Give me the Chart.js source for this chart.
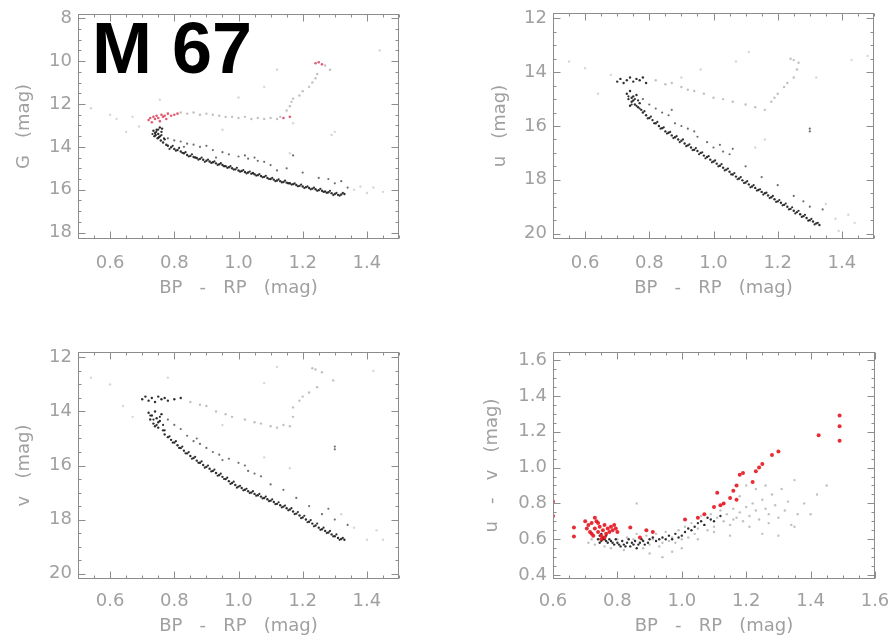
<!DOCTYPE html>
<html>
<head>
<meta charset="utf-8">
<script src="https://cdn.jsdelivr.net/npm/chart.js@4.4.0/dist/chart.umd.min.js"></script>
<style>
body { margin: 0; background: #fff; width: 892px; height: 637px; position: relative; overflow: hidden; }
canvas { position: absolute; }
#cluster { position: absolute; left: 92px; top: 12px; font: bold 72px "Liberation Sans", Arial, sans-serif; line-height: 72px; color: #000; }
</style>
</head>
<body>
<canvas id="panel-g" width="446" height="320" style="left:0;top:0"></canvas>
<canvas id="panel-u" width="446" height="320" style="left:446px;top:0"></canvas>
<canvas id="panel-v" width="446" height="317" style="left:0;top:320px"></canvas>
<canvas id="panel-uv" width="446" height="317" style="left:446px;top:320px"></canvas>
<div id="cluster">M 67</div>
<script>
// tick labels
const colorTicks = [0.6, 0.8, 1.0, 1.2, 1.4];
const uvColorTicks = [0.6, 0.8, 1.0, 1.2, 1.4, 1.6];
const gTicks = [8, 10, 12, 14, 16, 18];
const uTicks = [12, 14, 16, 18, 20];
const vTicks = [12, 14, 16, 18, 20];
const uvTicks = [0.4, 0.6, 0.8, 1.0, 1.2, 1.4, 1.6];

// G vs BP-RP
const gMain = [[0.735,13.25],[0.74,13.35],[0.745,13.2],[0.75,13.4],[0.755,13.1],[0.76,13.3],[0.738,13.5],[0.748,13.6],[0.742,13.45],[0.752,13.55],[0.758,13.7],[0.765,13.8],[0.77,13.65],[0.762,13.15],[0.775,13.9],[0.78,13.95],[0.79,14.02],[0.80,14.1],[0.81,14.15],[0.82,14.22],[0.83,14.3],[0.84,14.38],[0.85,14.42],[0.86,14.47],[0.87,14.52],[0.88,14.56],[0.89,14.6],[0.90,14.65],[0.91,14.68],[0.92,14.72],[0.93,14.77],[0.94,14.81],[0.95,14.85],[0.96,14.9],[0.97,14.95],[0.98,15.0],[0.99,15.05],[1.00,15.1],[1.01,15.13],[1.02,15.17],[1.03,15.2],[1.04,15.25],[1.05,15.28],[1.06,15.32],[1.07,15.36],[1.08,15.4],[1.09,15.45],[1.10,15.5],[1.11,15.53],[1.12,15.57],[1.13,15.6],[1.14,15.64],[1.15,15.67],[1.16,15.7],[1.17,15.74],[1.18,15.78],[1.19,15.82],[1.20,15.85],[1.21,15.88],[1.22,15.92],[1.23,15.95],[1.24,15.98],[1.25,16.02],[1.26,16.05],[1.27,16.08],[1.28,16.12],[1.29,16.16],[1.30,16.2],[1.31,16.24],[1.32,16.22],[1.33,16.2],[0.955,14.9],[1.045,15.22],[1.155,15.7],[1.265,16.1],[0.865,14.5]];
const gMainB = [[0.732,13.4],[0.744,13.3],[0.756,13.5],[0.768,13.6],[0.75,13.2],[0.76,13.45],[0.785,14.1],[0.795,13.95],[0.805,14.18],[0.815,14.05],[0.825,14.28],[0.835,14.25],[0.845,14.45],[0.855,14.35],[0.875,14.6],[0.885,14.5],[0.895,14.7],[0.905,14.6],[0.915,14.75],[0.925,14.68],[0.935,14.85],[0.945,14.76],[0.965,14.98],[0.975,14.9],[0.985,15.06],[0.995,14.98],[1.005,15.16],[1.015,15.08],[1.025,15.24],[1.035,15.15],[1.055,15.34],[1.065,15.27],[1.075,15.42],[1.085,15.35],[1.095,15.5],[1.105,15.45],[1.115,15.6],[1.125,15.52],[1.135,15.66],[1.145,15.58],[1.165,15.76],[1.175,15.7],[1.185,15.84],[1.195,15.76],[1.205,15.92],[1.215,15.84],[1.225,15.98],[1.235,15.9],[1.245,16.05],[1.255,15.96],[1.275,16.15],[1.285,16.05],[1.295,16.25],[1.305,16.15],[1.315,16.28],[1.325,16.15]];
const gBinary = [[0.78,13.6],[0.8,13.7],[0.82,13.75],[0.84,13.85],[0.86,13.9],[0.88,14.0],[0.9,13.95],[0.92,14.15],[0.95,14.25],[0.97,14.35],[1.0,14.45],[1.02,14.4],[1.03,14.55],[1.05,14.5],[1.06,14.65],[1.08,14.7],[1.1,14.85],[1.15,15.0],[1.17,14.4],[1.2,15.2],[1.25,15.45],[1.28,15.5],[1.3,15.7],[1.32,15.6],[1.34,15.9],[0.83,14.0],[0.93,14.5],[1.12,15.1]];
const gGiants = [[0.82,12.4],[0.84,12.45],[0.86,12.4],[0.88,12.5],[0.9,12.45],[0.92,12.5],[0.94,12.55],[0.96,12.6],[0.98,12.6],[1.0,12.65],[1.02,12.6],[1.04,12.7],[1.06,12.65],[1.08,12.7],[1.1,12.65],[1.12,12.7],[1.13,12.6],[1.15,12.3],[1.16,12.1],[1.165,11.9],[1.17,11.75],[1.19,11.6],[1.2,11.4],[1.22,11.2],[1.23,11.0],[1.24,10.8],[1.245,10.6],[1.27,10.2],[1.285,10.4]];
const gField = [[0.54,12.2],[0.6,12.5],[0.67,12.6],[0.755,11.8],[1.08,11.2],[1.12,10.4],[1.44,9.5],[1.29,13.45],[1.3,13.3],[1.16,14.3],[1.4,16.15],[1.45,16.1],[1.42,15.9],[0.65,13.3],[0.62,12.7],[0.95,13.2],[1.0,11.7],[1.36,16.0],[1.38,15.85],[0.69,13.05],[1.17,12.9]];
const gRed = [[0.72,12.75],[0.725,12.65],[0.73,12.85],[0.735,12.6],[0.74,12.7],[0.745,12.55],[0.75,12.65],[0.755,12.8],[0.76,12.5],[0.765,12.6],[0.77,12.55],[0.775,12.7],[0.78,12.45],[0.79,12.55],[0.80,12.5],[0.81,12.45],[1.24,10.1],[1.25,10.05],[1.26,10.15],[1.14,12.65],[1.16,12.6]];

// u vs BP-RP
const uMain = [[0.73,14.8],[0.735,15.0],[0.74,14.7],[0.745,15.1],[0.75,14.9],[0.755,15.2],[0.76,14.85],[0.74,15.25],[0.75,15.05],[0.765,15.3],[0.77,15.15],[0.745,14.95],[0.775,15.4],[0.78,15.5],[0.79,15.6],[0.80,15.7],[0.81,15.78],[0.82,15.9],[0.83,16.0],[0.84,16.08],[0.85,16.2],[0.86,16.25],[0.87,16.35],[0.88,16.42],[0.89,16.5],[0.9,16.55],[0.91,16.65],[0.92,16.72],[0.93,16.8],[0.94,16.88],[0.95,16.93],[0.96,17.0],[0.97,17.1],[0.98,17.15],[0.99,17.25],[1.0,17.32],[1.01,17.4],[1.02,17.48],[1.03,17.55],[1.04,17.62],[1.05,17.7],[1.06,17.8],[1.07,17.88],[1.08,17.95],[1.09,18.02],[1.1,18.1],[1.11,18.17],[1.12,18.25],[1.13,18.3],[1.14,18.38],[1.15,18.45],[1.16,18.5],[1.17,18.58],[1.18,18.65],[1.19,18.72],[1.2,18.8],[1.21,18.85],[1.22,18.93],[1.23,19.0],[1.24,19.08],[1.25,19.15],[1.26,19.2],[1.27,19.28],[1.28,19.35],[1.29,19.42],[1.3,19.5],[1.31,19.55],[1.32,19.62],[1.33,19.68],[0.70,14.35],[0.71,14.25],[0.72,14.4],[0.73,14.3],[0.74,14.2],[0.75,14.35],[0.76,14.25],[0.77,14.3],[0.78,14.2],[0.79,14.4]];
const uMainB = [[0.735,14.9],[0.745,15.2],[0.755,15.0],[0.76,15.25],[0.765,15.05],[0.77,15.35],[0.785,15.45],[0.795,15.72],[0.805,15.65],[0.815,15.9],[0.825,15.85],[0.835,16.1],[0.845,16.05],[0.855,16.28],[0.865,16.22],[0.875,16.45],[0.885,16.38],[0.895,16.6],[0.905,16.5],[0.915,16.75],[0.925,16.68],[0.935,16.9],[0.945,16.82],[0.955,17.05],[0.965,16.98],[0.975,17.2],[0.985,17.12],[0.995,17.35],[1.005,17.28],[1.015,17.5],[1.025,17.42],[1.035,17.65],[1.045,17.58],[1.055,17.8],[1.065,17.75],[1.075,17.98],[1.085,17.9],[1.095,18.12],[1.105,18.05],[1.115,18.28],[1.125,18.2],[1.135,18.4],[1.145,18.35],[1.155,18.55],[1.165,18.48],[1.175,18.68],[1.185,18.6],[1.195,18.82],[1.205,18.75],[1.215,18.95],[1.225,18.88],[1.235,19.1],[1.245,19.02],[1.255,19.25],[1.265,19.15],[1.275,19.38],[1.285,19.3],[1.295,19.52],[1.305,19.45],[1.315,19.66],[1.325,19.6]];
const uBinary = [[0.78,15.0],[0.8,15.2],[0.82,15.35],[0.84,15.5],[0.86,15.6],[0.88,15.9],[0.9,16.0],[0.92,16.1],[0.95,16.4],[0.98,16.6],[1.0,16.8],[1.02,16.7],[1.03,16.95],[1.05,17.05],[1.06,16.85],[1.1,17.5],[1.15,17.9],[1.2,18.2],[1.25,18.6],[1.28,18.8],[1.3,19.0],[1.34,19.1],[0.87,15.4],[0.94,16.2],[1.3,16.2],[1.3,16.1]];
const uGiants = [[0.82,14.3],[0.85,14.45],[0.87,14.4],[0.9,14.55],[0.92,14.65],[0.94,14.7],[0.97,14.8],[1.0,14.95],[1.03,15.0],[1.06,15.1],[1.1,15.2],[1.13,15.3],[1.16,15.4],[1.18,15.1],[1.19,14.95],[1.2,14.8],[1.22,14.55],[1.23,14.4],[1.25,14.2],[1.26,13.9],[1.24,13.5],[1.25,13.55],[1.265,13.65]];
const uField = [[0.55,13.6],[0.6,13.85],[0.64,14.8],[0.9,14.2],[1.07,13.6],[1.11,13.25],[1.48,13.4],[1.43,13.55],[1.39,19.9],[1.42,19.3],[1.13,16.8],[1.16,16.5],[1.44,19.6],[1.32,14.2],[0.68,14.1],[0.96,13.9],[1.35,18.9],[1.38,19.45]];

// v vs BP-RP
const vMain = [[0.72,14.05],[0.725,14.3],[0.73,14.15],[0.735,14.45],[0.74,14.0],[0.745,14.25],[0.75,14.6],[0.755,14.35],[0.76,14.1],[0.765,14.7],[0.74,14.55],[0.75,14.4],[0.77,14.85],[0.78,14.95],[0.79,15.05],[0.8,15.15],[0.81,15.25],[0.82,15.35],[0.83,15.45],[0.84,15.55],[0.85,15.65],[0.86,15.72],[0.87,15.82],[0.88,15.9],[0.89,15.98],[0.9,16.05],[0.91,16.12],[0.92,16.2],[0.93,16.28],[0.94,16.35],[0.95,16.42],[0.96,16.5],[0.97,16.58],[0.98,16.65],[0.99,16.72],[1.0,16.78],[1.01,16.83],[1.02,16.9],[1.03,16.95],[1.04,17.0],[1.05,17.05],[1.06,17.1],[1.07,17.15],[1.08,17.2],[1.09,17.25],[1.1,17.3],[1.11,17.35],[1.12,17.42],[1.13,17.47],[1.14,17.52],[1.15,17.58],[1.16,17.63],[1.17,17.7],[1.18,17.78],[1.19,17.85],[1.2,17.92],[1.21,18.0],[1.22,18.08],[1.23,18.15],[1.24,18.22],[1.25,18.3],[1.26,18.36],[1.27,18.42],[1.28,18.48],[1.29,18.55],[1.3,18.62],[1.31,18.68],[1.32,18.72],[1.33,18.75],[0.70,13.55],[0.71,13.45],[0.72,13.6],[0.73,13.5],[0.74,13.65],[0.75,13.45],[0.76,13.55],[0.77,13.5],[0.78,13.6],[0.8,13.55],[0.82,13.5]];
const vMainB = [[0.725,14.15],[0.735,14.3],[0.745,14.5],[0.755,14.2],[0.765,14.5],[0.77,14.7],[0.785,14.92],[0.795,15.15],[0.805,15.1],[0.815,15.35],[0.825,15.3],[0.835,15.55],[0.845,15.5],[0.855,15.75],[0.865,15.68],[0.875,15.9],[0.885,15.85],[0.895,16.08],[0.905,16.0],[0.915,16.22],[0.925,16.15],[0.935,16.38],[0.945,16.3],[0.955,16.5],[0.965,16.45],[0.975,16.68],[0.985,16.6],[0.995,16.82],[1.005,16.75],[1.015,16.92],[1.025,16.86],[1.035,17.02],[1.045,16.95],[1.055,17.12],[1.065,17.05],[1.075,17.22],[1.085,17.15],[1.095,17.32],[1.105,17.25],[1.115,17.43],[1.125,17.36],[1.135,17.55],[1.145,17.48],[1.155,17.66],[1.165,17.58],[1.175,17.8],[1.185,17.72],[1.195,17.95],[1.205,17.86],[1.215,18.1],[1.225,18.02],[1.235,18.25],[1.245,18.15],[1.255,18.38],[1.265,18.3],[1.275,18.5],[1.285,18.42],[1.295,18.62],[1.305,18.55],[1.315,18.75],[1.325,18.68]];
const vBinary = [[0.78,14.3],[0.8,14.5],[0.82,14.65],[0.84,14.9],[0.86,15.1],[0.88,15.2],[0.9,15.35],[0.92,15.5],[0.94,15.6],[0.97,15.75],[1.0,15.9],[1.02,16.0],[1.03,16.2],[1.05,16.3],[1.07,16.4],[1.1,16.7],[1.14,16.9],[1.18,17.2],[1.22,17.5],[1.26,17.8],[1.28,17.6],[1.3,18.0],[1.34,18.2],[0.87,15.0],[0.95,15.8],[1.3,15.4],[1.3,15.3]];
const vGiants = [[0.85,13.65],[0.88,13.75],[0.9,13.8],[0.93,14.0],[0.96,14.1],[0.98,14.2],[1.02,14.3],[1.05,14.4],[1.07,14.45],[1.1,14.55],[1.12,14.6],[1.14,14.5],[1.16,14.55],[1.17,14.2],[1.17,13.85],[1.19,13.6],[1.2,13.45],[1.22,13.3],[1.245,13.1],[1.23,12.4],[1.24,12.45],[1.26,12.55],[1.295,12.85]];
const vField = [[0.54,12.75],[0.6,13.0],[0.67,14.2],[0.78,12.75],[1.12,12.35],[1.08,12.95],[1.42,12.5],[1.4,18.75],[1.45,18.75],[1.43,18.4],[1.08,15.7],[1.16,16.1],[1.36,18.3],[0.64,13.8],[0.95,14.5],[1.32,17.8]];

// u-v vs BP-RP
const uvRed = [[0.70,0.7],[0.705,0.66],[0.71,0.68],[0.715,0.64],[0.72,0.69],[0.725,0.62],[0.73,0.66],[0.735,0.7],[0.74,0.64],[0.745,0.67],[0.75,0.62],[0.755,0.65],[0.76,0.68],[0.765,0.63],[0.77,0.66],[0.775,0.64],[0.78,0.67],[0.785,0.65],[0.79,0.68],[0.795,0.66],[0.8,0.64],[0.73,0.72],[0.75,0.6],[0.72,0.63],[0.74,0.69],[0.76,0.61],[0.665,0.665],[0.665,0.615],[0.6,0.81],[0.6,0.73],[0.84,0.665],[0.89,0.65],[0.91,0.64],[0.87,0.61],[1.01,0.71],[1.05,0.72],[1.07,0.74],[1.1,0.78],[1.11,0.86],[1.13,0.8],[1.12,0.79],[1.16,0.87],[1.17,0.9],[1.18,0.96],[1.19,0.97],[1.22,0.92],[1.24,1.0],[1.25,1.02],[1.23,0.98],[1.28,1.07],[1.3,1.09],[1.425,1.18],[1.49,1.29],[1.49,1.23],[1.49,1.15],[1.15,0.83],[1.17,0.82]];
const uvBlack = [[0.74,0.6],[0.745,0.62],[0.75,0.59],[0.755,0.61],[0.76,0.6],[0.75,0.63],[0.77,0.58],[0.78,0.59],[0.79,0.57],[0.8,0.58],[0.81,0.56],[0.82,0.57],[0.83,0.58],[0.84,0.56],[0.85,0.57],[0.86,0.55],[0.87,0.58],[0.88,0.59],[0.9,0.6],[0.92,0.59],[0.94,0.61],[0.95,0.6],[0.96,0.62],[0.98,0.63],[1.0,0.62],[1.01,0.64],[1.02,0.66],[1.04,0.67],[1.05,0.69],[1.06,0.7],[1.08,0.72],[1.1,0.7],[1.12,0.73],[0.745,0.58],[0.755,0.6],[0.765,0.62],[0.765,0.59],[0.775,0.6],[0.785,0.58],[0.795,0.6],[0.805,0.57],[0.815,0.59],[0.825,0.56],[0.835,0.6],[0.845,0.58],[0.855,0.59],[0.865,0.57],[0.875,0.6],[0.885,0.57],[0.895,0.58],[0.91,0.61],[0.93,0.6],[0.97,0.6],[0.99,0.61],[1.03,0.65],[1.07,0.68],[1.09,0.71]];
const uvGrey = [[0.71,0.58],[0.72,0.6],[0.73,0.57],[0.76,0.56],[0.78,0.55],[0.8,0.6],[0.82,0.54],[0.83,0.61],[0.85,0.6],[0.86,0.63],[0.88,0.55],[0.89,0.62],[0.9,0.57],[0.91,0.6],[0.92,0.63],[0.93,0.56],[0.94,0.58],[0.95,0.64],[0.96,0.59],[0.97,0.61],[0.98,0.58],[0.99,0.65],[1.0,0.6],[1.01,0.67],[1.02,0.61],[1.03,0.69],[1.04,0.63],[1.05,0.66],[1.06,0.73],[1.07,0.68],[1.08,0.65],[1.09,0.74],[1.1,0.67],[1.11,0.72],[1.12,0.76],[1.13,0.7],[1.14,0.74],[1.15,0.68],[1.16,0.77],[1.17,0.72],[1.18,0.75],[1.19,0.7],[1.2,0.78],[1.21,0.73],[1.22,0.8],[1.23,0.76],[1.24,0.71],[1.25,0.82],[1.26,0.77],[1.27,0.74],[1.28,0.85],[1.29,0.79],[1.3,0.72],[1.31,0.88],[1.32,0.76],[1.33,0.81],[1.34,0.68],[1.35,0.93],[1.36,0.74],[1.2,0.9],[1.23,0.88],[1.26,0.9],[1.18,0.84],[1.15,0.62],[1.25,0.63],[0.86,0.8],[1.42,0.85],[1.45,0.9],[1.35,0.67],[1.4,0.74],[1.3,0.62],[0.9,0.52],[0.94,0.5],[1.0,0.55],[0.97,0.53],[1.05,0.6],[1.1,0.64],[1.13,0.8],[1.16,0.71],[1.21,0.67],[1.27,0.69],[1.38,0.8]];

const textGrey = '#a0a0a0';
const axisFont = { family: 'DejaVu Sans', size: 18 };
const xTitle = 'BP   -   RP   (mag)';

// box with inward major/minor ticks on all four sides, IDL style
function framePlugin(t) {
    return {
        id: 'frame',
        afterDraw(chart) {
            const { ctx, chartArea: a, scales } = chart;
            ctx.save();
            ctx.strokeStyle = '#8c8c8c';
            ctx.lineWidth = 1;
            const L = Math.round(a.left) + 0.5, R = Math.round(a.right) - 0.5;
            const T = Math.round(a.top) + 0.5, B = Math.round(a.bottom) - 0.5;
            ctx.strokeRect(L, T, R - L, B - T);
            ctx.beginPath();
            const marks = (scale, minor, major, cb) => {
                const k0 = Math.ceil(scale.min / minor - 1e-6), k1 = Math.floor(scale.max / minor + 1e-6);
                for (let k = k0; k <= k1; k++) {
                    const v = k * minor;
                    const isMajor = Math.abs(v / major - Math.round(v / major)) < 1e-6;
                    cb(Math.round(scale.getPixelForValue(v)) + 0.5, isMajor ? 7 : 3);
                }
            };
            marks(scales.x, t.xMinor, t.xMajor, (px, len) => {
                ctx.moveTo(px, B); ctx.lineTo(px, B - len);
                ctx.moveTo(px, T); ctx.lineTo(px, T + len);
            });
            marks(scales.y, t.yMinor, t.yMajor, (py, len) => {
                ctx.moveTo(L, py); ctx.lineTo(L + len, py);
                ctx.moveTo(R, py); ctx.lineTo(R - len, py);
            });
            ctx.stroke();
            ctx.restore();
        }
    };
}

function makePanel(id, o) {
    const canvas = document.getElementById(id);
    new Chart(canvas.getContext('2d'), {
        type: 'scatter',
        data: {
            datasets: o.sets.map(s => ({
                data: s.pts.map(p => ({ x: p[0], y: p[1] })),
                backgroundColor: s.color,
                pointRadius: s.r,
                pointHoverRadius: s.r,
                pointBorderWidth: 0
            }))
        },
        options: {
            responsive: false,
            animation: false,
            events: [],
            layout: { padding: { top: o.top, right: o.right, left: 0, bottom: 0 } },
            plugins: {
                legend: { display: false },
                tooltip: { enabled: false }
            },
            scales: {
                x: {
                    type: 'linear', min: o.xMin, max: o.xMax,
                    afterBuildTicks: s => { s.ticks = o.xTicks.map(v => ({ value: v })); },
                    afterFit: s => { s.height = o.xH; s.paddingLeft = 0; s.paddingRight = 0; },
                    ticks: { color: textGrey, font: axisFont, padding: o.xPad, autoSkip: false, maxRotation: 0, callback: v => v.toFixed(1) },
                    grid: { display: false, drawTicks: false },
                    border: { display: false },
                    title: { display: true, text: xTitle, color: textGrey, font: axisFont, padding: { top: 0, bottom: o.xTitlePad } }
                },
                y: {
                    type: 'linear', min: o.yMin, max: o.yMax, reverse: o.reverse,
                    afterBuildTicks: s => { s.ticks = o.yTicks.map(v => ({ value: v })); },
                    afterFit: s => { s.width = o.yW; s.paddingTop = 0; s.paddingBottom = 0; },
                    ticks: { color: textGrey, font: axisFont, padding: 6, autoSkip: false, callback: o.yLabel },
                    grid: { display: false, drawTicks: false },
                    border: { display: false },
                    title: { display: true, text: o.yTitle, color: textGrey, font: axisFont, padding: { top: o.yTitlePad, bottom: 0 } }
                }
            }
        },
        plugins: [framePlugin({ xMinor: 0.05, xMajor: 0.2, yMinor: o.yMinor, yMajor: o.yMajor })]
    });
}

const dark = 'rgba(25,25,25,0.9)';
const darkish = 'rgba(60,60,60,0.75)';
const pale = 'rgba(150,150,150,0.6)';
const paler = 'rgba(175,175,175,0.5)';

makePanel('panel-g', {
    xMin: 0.5, xMax: 1.5, xTicks: colorTicks, yMin: 7.8, yMax: 18.3, yTicks: gTicks, reverse: true,
    yMinor: 0.5, yMajor: 2, yLabel: v => String(v), yTitle: 'G   (mag)',
    top: 14, right: 47, yW: 78, xH: 81, xPad: 14, xTitlePad: 21, yTitlePad: 14,
    sets: [
        { pts: gRed, color: 'rgba(214,40,70,0.75)', r: 1.3 },
        { pts: gMain, color: dark, r: 1.2 },
        { pts: gMainB, color: dark, r: 1.1 },
        { pts: gBinary, color: darkish, r: 1.1 },
        { pts: gGiants, color: pale, r: 1.2 },
        { pts: gField, color: paler, r: 1.2 }
    ]
});

makePanel('panel-u', {
    xMin: 0.5, xMax: 1.5, xTicks: colorTicks, yMin: 11.8, yMax: 20.2, yTicks: uTicks, reverse: true,
    yMinor: 0.5, yMajor: 2, yLabel: v => String(v), yTitle: 'u   (mag)',
    top: 13, right: 18, yW: 107, xH: 81, xPad: 14, xTitlePad: 21, yTitlePad: 44,
    sets: [
        { pts: uMain, color: dark, r: 1.2 },
        { pts: uMainB, color: dark, r: 1.1 },
        { pts: uBinary, color: darkish, r: 1.1 },
        { pts: uGiants, color: pale, r: 1.2 },
        { pts: uField, color: paler, r: 1.2 }
    ]
});

makePanel('panel-v', {
    xMin: 0.5, xMax: 1.5, xTicks: colorTicks, yMin: 11.8, yMax: 20.2, yTicks: vTicks, reverse: true,
    yMinor: 0.5, yMajor: 2, yLabel: v => String(v), yTitle: 'v   (mag)',
    top: 32, right: 47, yW: 78, xH: 58, xPad: 12, xTitlePad: 0, yTitlePad: 14,
    sets: [
        { pts: vMain, color: dark, r: 1.2 },
        { pts: vMainB, color: dark, r: 1.1 },
        { pts: vBinary, color: darkish, r: 1.1 },
        { pts: vGiants, color: pale, r: 1.2 },
        { pts: vField, color: paler, r: 1.2 }
    ]
});

makePanel('panel-uv', {
    xMin: 0.6, xMax: 1.6, xTicks: uvColorTicks, yMin: 0.378, yMax: 1.645, yTicks: uvTicks, reverse: false,
    yMinor: 0.05, yMajor: 0.2, yLabel: v => v.toFixed(1), yTitle: 'u   -   v   (mag)',
    top: 32, right: 17, yW: 107, xH: 58, xPad: 12, xTitlePad: 0, yTitlePad: 36,
    sets: [
        { pts: uvRed, color: 'rgba(230,20,30,0.9)', r: 2 },
        { pts: uvBlack, color: dark, r: 1.2 },
        { pts: uvGrey, color: pale, r: 1.2 }
    ]
});
</script>
</body>
</html>
